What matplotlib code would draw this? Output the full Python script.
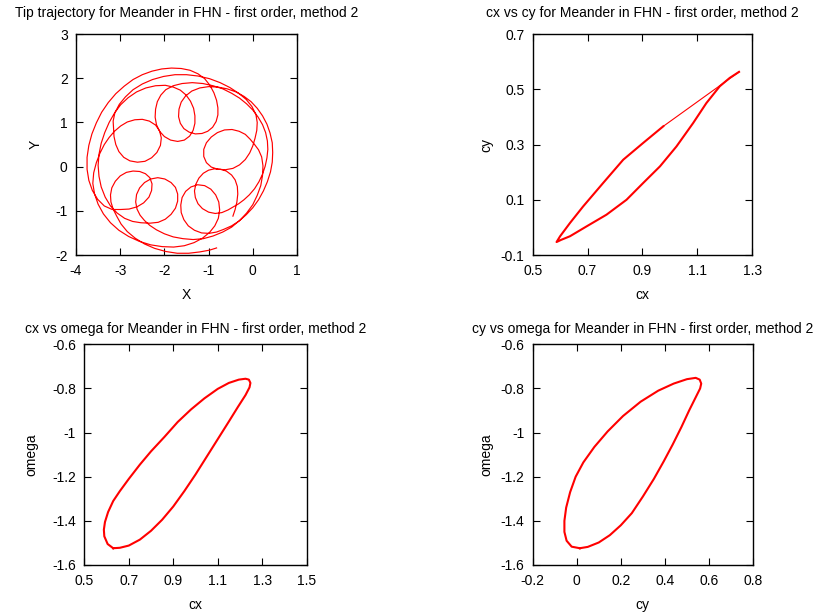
import numpy as np
import matplotlib
matplotlib.use("Agg")
import matplotlib.pyplot as plt

plt.rcParams['font.family'] = ['Liberation Sans', 'DejaVu Sans']
plt.rcParams['font.size'] = 10

tip_x = [
    # start, first loop (lower right)
    -0.45, -0.40, -0.36, -0.34, -0.35, -0.40, -0.48, -0.60, -0.73, -0.87, -1.00, -1.12, -1.22, -1.29, -1.32,
    -1.30, -1.24, -1.14, -1.00, -0.85, -0.70, -0.56, -0.44, -0.32,
    # arc over the right side
    -0.20, -0.08, 0.04, 0.14, 0.22, 0.28, 0.32, 0.34, 0.33, 0.29, 0.22, 0.12, 0.00, -0.14, -0.30, -0.48,
    -0.68, -0.90, -1.13, -1.37, -1.60, -1.80,
    # top loop
    -1.97, -2.08, -2.16, -2.20, -2.21, -2.18, -2.11, -2.00, -1.86, -1.70, -1.55, -1.43, -1.35, -1.31, -1.31,
    -1.34, -1.41, -1.51, -1.64, -1.80, -1.98,
    # arc down the left side
    -2.20, -2.42, -2.63, -2.82, -2.99, -3.13, -3.25, -3.35, -3.43, -3.48, -3.50, -3.48, -3.43, -3.34, -3.22,
    -3.07, -2.90, -2.72, -2.53,
    # lower left loop
    -2.33, -2.14, -1.98, -1.85, -1.75, -1.70, -1.70, -1.75, -1.85, -1.99, -2.15, -2.31, -2.45, -2.56, -2.63,
    -2.65, -2.62, -2.55, -2.45, -2.33, -2.18,
    # arc along the bottom and up the right
    -2.00, -1.80, -1.58, -1.35, -1.12, -0.90, -0.68, -0.48, -0.30, -0.14, 0.00, 0.10, 0.18, 0.22, 0.23,
    0.20, 0.13, 0.04,
    # right loop
    -0.06, -0.17, -0.31, -0.47, -0.64, -0.80, -0.94, -1.05, -1.11, -1.11, -1.05, -0.94, -0.79, -0.62, -0.45,
    -0.30, -0.17, -0.07, 0.00, 0.05,
    # arc over the top
    0.09, 0.10, 0.07, -0.02, -0.15, -0.32, -0.52, -0.74, -0.98, -1.24, -1.50, -1.76, -2.02, -2.27, -2.50,
    -2.71, -2.88, -3.02, -3.12, -3.16, -3.15,
    # left loop
    -3.14, -3.10, -3.03, -2.92, -2.78, -2.61, -2.44, -2.29, -2.17, -2.09, -2.07, -2.11, -2.20, -2.34, -2.50,
    -2.67, -2.84, -2.99, -3.13, -3.25,
    # arc down the left and along the bottom
    -3.36, -3.46, -3.54, -3.60, -3.62, -3.58, -3.50, -3.38, -3.22, -3.03, -2.81, -2.57, -2.31, -2.05, -1.79,
    -1.55, -1.33, -1.14, -0.98,
    # lower loop
    -0.86, -0.78, -0.75, -0.77, -0.84, -0.95, -1.09, -1.25, -1.40, -1.52, -1.60, -1.63, -1.62, -1.56, -1.46,
    -1.32, -1.16, -0.99, -0.82, -0.66,
    # outer arc on the right
    -0.48, -0.31, -0.15, 0.00, 0.13, 0.24, 0.33, 0.40, 0.44, 0.45, 0.44, 0.39, 0.32, 0.22, 0.10, -0.04,
    -0.20, -0.38, -0.58, -0.79, -1.00, -1.20, -1.38,
    # second top loop
    -1.52, -1.62, -1.67, -1.68, -1.64, -1.56, -1.44, -1.30, -1.15, -1.02, -0.91, -0.83, -0.79, -0.79, -0.82,
    -0.88, -0.97, -1.09, -1.24,
    # outermost arc over the top left
    -1.42, -1.62, -1.84, -2.06, -2.28, -2.50, -2.71, -2.91, -3.10, -3.27, -3.42, -3.54, -3.64, -3.71, -3.75,
    -3.75, -3.71, -3.63, -3.51, -3.36, -3.18,
    # second lower left loop
    -2.99, -2.80, -2.62, -2.47, -2.35, -2.29, -2.28, -2.33, -2.43, -2.56, -2.71, -2.86, -3.00, -3.11, -3.19,
    -3.22, -3.21, -3.16, -3.08,
    # last arc along the bottom
    -2.98, -2.84, -2.66, -2.45, -2.22, -1.97, -1.71, -1.45, -1.20, -0.98, -0.82]
tip_y = [
    -1.12, -0.97, -0.80, -0.62, -0.45, -0.30, -0.19, -0.10, -0.06, -0.05, -0.08, -0.15, -0.26, -0.40, -0.55,
    -0.70, -0.84, -0.95, -1.03, -1.06, -1.04, -0.98, -0.91, -0.84,
    -0.75, -0.64, -0.50, -0.34, -0.17, 0.01, 0.20, 0.39, 0.58, 0.77, 0.95, 1.12, 1.28, 1.42, 1.55, 1.66,
    1.76, 1.83, 1.88, 1.90, 1.88, 1.83,
    1.74, 1.62, 1.47, 1.30, 1.12, 0.95, 0.80, 0.68, 0.60, 0.57, 0.60, 0.69, 0.82, 0.98, 1.15,
    1.32, 1.48, 1.62, 1.73, 1.80, 1.84,
    1.83, 1.78, 1.69, 1.56, 1.40, 1.21, 1.00, 0.77, 0.53, 0.28, 0.03, -0.22, -0.46, -0.69, -0.89,
    -1.05, -1.17, -1.24, -1.27,
    -1.28, -1.26, -1.19, -1.08, -0.94, -0.78, -0.62, -0.47, -0.36, -0.28, -0.25, -0.28, -0.36, -0.48, -0.63,
    -0.80, -0.96, -1.10, -1.22, -1.33, -1.43,
    -1.52, -1.59, -1.63, -1.65, -1.63, -1.57, -1.48, -1.37, -1.22, -1.05, -0.86, -0.65, -0.43, -0.20, 0.02,
    0.22, 0.38, 0.50,
    0.62, 0.73, 0.80, 0.84, 0.83, 0.77, 0.67, 0.54, 0.39, 0.23, 0.09, -0.01, -0.06, -0.07, -0.04,
    0.04, 0.16, 0.31, 0.47, 0.64,
    0.82, 1.00, 1.18, 1.36, 1.52, 1.66, 1.79, 1.90, 1.99, 2.05, 2.08, 2.08, 2.04, 1.97, 1.87,
    1.74, 1.58, 1.41, 1.22, 1.03, 0.86,
    0.68, 0.50, 0.34, 0.21, 0.13, 0.10, 0.12, 0.20, 0.32, 0.48, 0.65, 0.81, 0.94, 1.03, 1.07,
    1.06, 1.01, 0.92, 0.80, 0.66,
    0.50, 0.30, 0.09, -0.14, -0.38, -0.62, -0.85, -1.07, -1.27, -1.44, -1.58, -1.69, -1.77, -1.81, -1.82,
    -1.79, -1.72, -1.62, -1.49,
    -1.34, -1.17, -0.98, -0.80, -0.64, -0.51, -0.43, -0.41, -0.46, -0.56, -0.70, -0.87, -1.04, -1.20, -1.34,
    -1.44, -1.50, -1.51, -1.48, -1.42,
    -1.34, -1.23, -1.09, -0.93, -0.75, -0.55, -0.34, -0.12, 0.10, 0.32, 0.54, 0.76, 0.96, 1.15, 1.32, 1.47,
    1.59, 1.69, 1.76, 1.80, 1.81, 1.78, 1.71,
    1.60, 1.46, 1.30, 1.13, 0.98, 0.86, 0.78, 0.74, 0.75, 0.80, 0.89, 1.02, 1.17, 1.33, 1.50,
    1.67, 1.84, 1.99, 2.10,
    2.18, 2.22, 2.23, 2.21, 2.16, 2.08, 1.97, 1.82, 1.65, 1.45, 1.23, 0.99, 0.74, 0.48, 0.21,
    -0.06, -0.31, -0.54, -0.74, -0.89, -0.97,
    -0.97, -0.96, -0.91, -0.82, -0.69, -0.54, -0.39, -0.25, -0.16, -0.11, -0.10, -0.13, -0.21, -0.33, -0.48,
    -0.64, -0.80, -0.96, -1.12,
    -1.30, -1.47, -1.62, -1.75, -1.85, -1.92, -1.96, -1.96, -1.93, -1.89, -1.84]

# cx vs cy: the loop drawn many times, and the single straight stretch
cxcy_cx = [0.976, 0.903, 0.830, 0.757, 0.684, 0.636, 0.600, 0.587, 0.604, 0.636, 0.697, 0.769, 0.842,
           0.903, 0.964, 1.024, 1.085, 1.133, 1.182, 1.218, 1.249, 1.252]
cxcy_cy = [0.366, 0.306, 0.245, 0.161, 0.076, 0.016, -0.032, -0.053, -0.045, -0.032, 0.004, 0.046, 0.100,
           0.161, 0.221, 0.293, 0.378, 0.450, 0.511, 0.541, 0.561, 0.563]
cxcy_jump_cx = [1.252, 0.976]
cxcy_jump_cy = [0.563, 0.366]

# cx vs omega
cxom_cx = [0.630, 0.605, 0.590, 0.588, 0.593, 0.607, 0.630, 0.660, 0.700, 0.750, 0.800, 0.860, 0.920,
           0.980, 1.040, 1.100, 1.150, 1.195, 1.225, 1.240, 1.247, 1.243, 1.225, 1.190, 1.150, 1.100,
           1.050, 1.000, 0.950, 0.900, 0.850, 0.800, 0.750, 0.700, 0.660, 0.630]
cxom_om = [-1.524, -1.505, -1.470, -1.440, -1.405, -1.360, -1.310, -1.265, -1.210, -1.145, -1.085, -1.020, -0.952,
           -0.895, -0.845, -0.802, -0.775, -0.760, -0.756, -0.760, -0.775, -0.795, -0.830, -0.885, -0.950, -1.030,
           -1.110, -1.190, -1.265, -1.335, -1.395, -1.445, -1.485, -1.512, -1.522, -1.524]

# cy vs omega
cyom_cy = [0.014, -0.023, -0.046, -0.056, -0.056, -0.048, -0.030, -0.005, 0.030, 0.080, 0.140, 0.210, 0.290,
           0.370, 0.440, 0.500, 0.540, 0.558, 0.565, 0.560, 0.540, 0.510, 0.475, 0.435, 0.395, 0.350,
           0.300, 0.250, 0.200, 0.150, 0.100, 0.050, 0.014]
cyom_om = [-1.524, -1.517, -1.490, -1.450, -1.400, -1.340, -1.270, -1.200, -1.135, -1.065, -0.995, -0.925, -0.860,
           -0.810, -0.778, -0.758, -0.752, -0.760, -0.778, -0.800, -0.840, -0.900, -0.975, -1.055, -1.130, -1.210,
           -1.290, -1.365, -1.420, -1.465, -1.498, -1.518, -1.524]

title_tail = " for Meander in FHN - first order, method 2"
panels = [
    dict(rect=[0.0927, 0.5833, 0.2695, 0.3611], lines=[(tip_x, tip_y, 0.85)],
         title="Tip trajectory" + title_tail, tpad=12, xlabel="X", ylabel="Y", ycoord=-0.152,
         xlim=(-4, 1), ylim=(-2, 3), xt=np.arange(-4, 1.01, 1), yt=np.arange(-2, 3.01, 1)),
    dict(rect=[0.6496, 0.5833, 0.2677, 0.3611],
         lines=[(cxcy_cx, cxcy_cy, 1.5), (cxcy_jump_cx, cxcy_jump_cy, 0.8)],
         title="cx vs cy" + title_tail, tpad=12, xlabel="cx", ylabel="cy", ycoord=-0.181,
         xlim=(0.5, 1.3), ylim=(-0.1, 0.7), xt=np.arange(0.5, 1.31, 0.2), yt=np.arange(-0.1, 0.71, 0.2)),
    dict(rect=[0.1028, 0.0768, 0.2712, 0.3606], lines=[(cxom_cx, cxom_om, 1.5)],
         title="cx vs omega" + title_tail, tpad=8.5, xlabel="cx", ylabel="omega", ycoord=-0.208,
         xlim=(0.5, 1.5), ylim=(-1.6, -0.6), xt=np.arange(0.5, 1.51, 0.2), yt=np.arange(-1.6, -0.59, 0.2)),
    dict(rect=[0.6496, 0.0768, 0.2687, 0.3606], lines=[(cyom_cy, cyom_om, 1.5)],
         title="cy vs omega" + title_tail, tpad=8.5, xlabel="cy", ylabel="omega", ycoord=-0.18,
         xlim=(-0.2, 0.8), ylim=(-1.6, -0.6), xt=np.arange(-0.2, 0.81, 0.2), yt=np.arange(-1.6, -0.59, 0.2)),
]

fig = plt.figure(figsize=(8.2, 6.12), dpi=100)
for p in panels:
    ax = fig.add_axes(p["rect"])
    for xs, ys, lw in p["lines"]:
        ax.plot(xs, ys, color="red", lw=lw)
    ax.set_xlim(*p["xlim"])
    ax.set_ylim(*p["ylim"])
    ax.set_xticks(p["xt"])
    ax.set_yticks(p["yt"])
    ax.set_xticklabels(["%g" % round(v, 2) for v in p["xt"]])
    ax.set_yticklabels(["%g" % round(v, 2) for v in p["yt"]])
    ax.tick_params(direction="in", length=5, width=0.8, top=True, right=True, labelsize=10)
    ax.tick_params(axis="x", pad=6.5)
    ax.tick_params(axis="y", pad=6)
    for s in ax.spines.values():
        s.set_linewidth(1.0)
    ax.set_title(p["title"], fontsize=10, pad=p["tpad"])
    ax.set_xlabel(p["xlabel"], fontsize=10, labelpad=7)
    ax.set_ylabel(p["ylabel"], fontsize=10)
    ax.yaxis.set_label_coords(p["ycoord"], 0.5)

fig.savefig("out.png", dpi=100)
